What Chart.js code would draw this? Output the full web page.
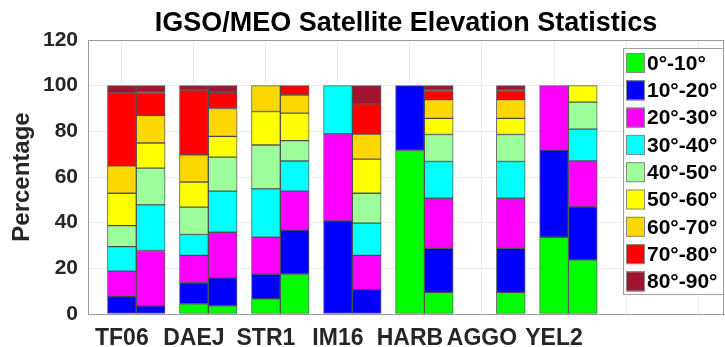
<!DOCTYPE html>
<html>
<head>
<meta charset="utf-8">
<script src="https://cdn.jsdelivr.net/npm/chart.js@4.4.1/dist/chart.umd.min.js"></script>
<style>
  html, body { margin: 0; background: #fff; }
</style>
</head>
<body>
<canvas id="elevChart" width="725" height="347"></canvas>
<script>
// --------------------- Data ---------------------
const stations = ['TF06', 'DAEJ', 'STR1', 'IM16', 'HARB', 'AGGO', 'YEL2'];
const bands = ['0°-10°', '10°-20°', '20°-30°', '30°-40°', '40°-50°', '50°-60°', '60°-70°', '70°-80°', '80°-90°'];

// IGSO percentages per elevation band (one value per station, AGGO has no IGSO)
const igso0_10  = [0,    4.5,  6.6,  0,    71.6, null, 33.6];
const igso10_20 = [7.6,  9.2,  10.9, 40.8, 28.4, null, 38.2];
const igso20_30 = [11.2, 12.0, 16.1, 38.1, 0,    null, 28.2];
const igso30_40 = [10.7, 9.1,  21.2, 21.1, 0,    null, 0];
const igso40_50 = [9.2,  12.0, 19.2, 0,    0,    null, 0];
const igso50_60 = [14.2, 11.0, 14.7, 0,    0,    null, 0];
const igso60_70 = [12.0, 11.9, 11.3, 0,    0,    null, 0];
const igso70_80 = [31.9, 28.4, 0,    0,    0,    null, 0];
const igso80_90 = [3.2,  1.9,  0,    0,    0,    null, 0];

// MEO percentages per elevation band
const meo0_10  = [0,    3.6,  17.5, 0,    9.5,  9.5,  23.7];
const meo10_20 = [3.6,  12.2, 19.2, 10.7, 19.3, 19.3, 23.2];
const meo20_30 = [24.2, 20.0, 17.1, 15.0, 21.9, 21.9, 20.1];
const meo30_40 = [20.0, 18.0, 13.2, 14.1, 16.1, 16.1, 14.0];
const meo40_50 = [16.1, 14.9, 8.9,  13.1, 11.8, 11.8, 11.8];
const meo50_60 = [11.0, 9.1,  12.1, 14.9, 7.1,  7.1,  7.2];
const meo60_70 = [12.1, 12.2, 7.9,  11.0, 8.2,  8.2,  0];
const meo70_80 = [10.0, 7.1,  4.1,  13.2, 4.0,  4.0,  0];
const meo80_90 = [3.0,  2.9,  0,    8.0,  2.1,  2.1,  0];

const yTicks = [0, 20, 40, 60, 80, 100, 120];

// --------------------- Styles ---------------------
const igsoSeries = [igso0_10, igso10_20, igso20_30, igso30_40, igso40_50, igso50_60, igso60_70, igso70_80, igso80_90];
const meoSeries = [meo0_10, meo10_20, meo20_30, meo30_40, meo40_50, meo50_60, meo60_70, meo70_80, meo80_90];
const bandColors = ['#00ff00', '#0000ff', '#ff00ff', '#00ffff', '#9cff9c', '#ffff00', '#ffd700', '#ff0000', '#a2142f'];
const meoShift = 0.4;   // second bar of each pair sits right of the station tick
const textColor = '#262626';
const fontFamily = '"Liberation Sans", Arial, sans-serif';

const datasets = bands.map((band, b) => {
  const pts = [];
  stations.forEach((_, i) => {
    const v1 = igsoSeries[b][i];
    const v2 = meoSeries[b][i];
    pts.push({ x: i + 1, y: v1 ? v1 : null });
    pts.push({ x: i + 1 + meoShift, y: v2 ? v2 : null });
  });
  return {
    label: band,
    data: pts,
    backgroundColor: bandColors[b],
    borderColor: 'rgba(40,40,40,0.75)',
    borderWidth: 1,
    borderSkipped: false,
    barThickness: 28.8
  };
});

// --------------------- Plugins ---------------------
const titlePlugin = {
  id: 'plotTitle',
  afterDraw(chart) {
    const { ctx, chartArea } = chart;
    ctx.save();
    ctx.fillStyle = '#000';
    ctx.font = 'bold 27px ' + fontFamily;
    ctx.textAlign = 'center';
    ctx.textBaseline = 'alphabetic';
    ctx.fillText('IGSO/MEO Satellite Elevation Statistics', (chartArea.left + chartArea.right) / 2, 31);
    ctx.restore();
  }
};

const framePlugin = {
  id: 'frame',
  afterDatasetsDraw(chart) {
    const { ctx, chartArea: a } = chart;
    ctx.save();
    ctx.strokeStyle = '#9a9a9a';
    ctx.lineWidth = 1;
    ctx.strokeRect(a.left + 0.5, a.top + 0.5, a.right - a.left - 1, a.bottom - a.top);
    ctx.restore();
  }
};

const boxLegend = {
  id: 'boxLegend',
  afterDraw(chart) {
    const { ctx } = chart;
    const left = 623, top = 48, width = 100, height = 246;
    ctx.save();
    ctx.fillStyle = '#fff';
    ctx.fillRect(left, top, width, height);
    ctx.strokeStyle = '#a0a0a0';
    ctx.lineWidth = 1;
    ctx.strokeRect(left + 0.5, top + 0.5, width, height);
    ctx.font = 'bold 21px ' + fontFamily;
    ctx.textBaseline = 'middle';
    chart.data.datasets.forEach((ds, i) => {
      const y = top + 5 + i * 27.3;
      ctx.fillStyle = ds.backgroundColor;
      ctx.fillRect(left + 3, y, 19, 20);
      ctx.strokeStyle = '#8a8a8a';
      ctx.strokeRect(left + 3.5, y + 0.5, 18, 19);
      ctx.fillStyle = '#000';
      ctx.fillText(ds.label, left + 24, y + 11);
    });
    ctx.restore();
  }
};

// --------------------- Chart ---------------------
const ctx = document.getElementById('elevChart').getContext('2d');
const elevChart = new Chart(ctx, {
  type: 'bar',
  data: { datasets },
  options: {
    responsive: false,
    animation: false,
    layout: { padding: { top: 40, right: 1, left: 0, bottom: 0 } },
    scales: {
      x: {
        type: 'linear',
        stacked: true,
        offset: false,
        min: 0.53,
        max: 9.36,
        afterBuildTicks: s => { s.ticks = [1, 2, 3, 4, 5, 6, 7, 8, 9].map(v => ({ value: v })); },
        afterFit: s => { s.height = 33; },
        grid: { offset: false, color: '#ebebeb', drawTicks: false },
        border: { color: '#9a9a9a' },
        ticks: {
          autoSkip: false,
          maxRotation: 0,
          padding: 11,
          color: textColor,
          font: { family: fontFamily, size: 23, weight: 'bold' },
          callback: v => stations[v - 1] || ''
        }
      },
      y: {
        stacked: true,
        min: 0,
        max: 120,
        afterBuildTicks: s => { s.ticks = yTicks.map(v => ({ value: v })); },
        afterFit: s => { s.width = 88; },
        grid: { color: '#ebebeb', drawTicks: false },
        border: { color: '#9a9a9a' },
        ticks: {
          padding: 10,
          color: textColor,
          font: { family: fontFamily, size: 21, weight: 'bold' }
        },
        title: {
          display: true,
          text: 'Percentage',
          color: textColor,
          padding: { top: 8, bottom: 0 },
          font: { family: fontFamily, size: 24, weight: 'bold' }
        }
      }
    },
    plugins: {
      legend: { display: false },
      tooltip: { enabled: false }
    }
  },
  plugins: [framePlugin, titlePlugin, boxLegend]
});
</script>
</body>
</html>
